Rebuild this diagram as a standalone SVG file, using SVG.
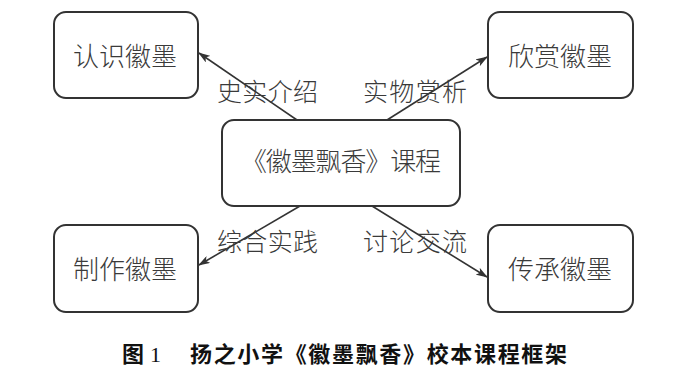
<svg xmlns="http://www.w3.org/2000/svg" width="700" height="388" viewBox="0 0 700 388">
<style>
.box{fill:#fff;stroke:#333;stroke-width:2}
.t{font-family:"Noto Sans CJK SC","Noto Sans CJK JP",sans-serif;font-size:26px;fill:#3a3a3a;text-anchor:middle;font-weight:300}
.lbl{font-family:"Noto Sans CJK SC","Noto Sans CJK JP",sans-serif;font-size:25px;fill:#3a3a3a;font-weight:300}
.cap{font-family:"Noto Sans CJK SC","Noto Sans CJK JP",sans-serif;font-size:22px;font-weight:bold;fill:#111}
.ln{stroke:#333;stroke-width:1.6;fill:none;marker-end:url(#ah)}
</style>
<defs>
<marker id="ah" viewBox="0 0 12 8" refX="11" refY="4" markerWidth="12" markerHeight="8" markerUnits="userSpaceOnUse" orient="auto">
<path d="M0,0 L12,4 L0,8 L3,4 Z" fill="#333"/>
</marker>
</defs>
<rect width="700" height="388" fill="#fff"/>
<g id="connectors">
<line class="ln" x1="297" y1="120" x2="199" y2="53"/>
<line class="ln" x1="387" y1="120" x2="487" y2="57"/>
<line class="ln" x1="300" y1="206" x2="199" y2="265"/>
<line class="ln" x1="372" y1="206" x2="487" y2="277"/>
<text class="lbl" x="217" y="101" textLength="101">史实介绍</text>
<text class="lbl" x="363" y="101" textLength="104">实物赏析</text>
<text class="lbl" x="217" y="251" textLength="101">综合实践</text>
<text class="lbl" x="363" y="251" textLength="104">讨论交流</text>
</g>
<g id="center">
<rect class="box" x="222" y="120" width="238" height="86" rx="12"/>
<text class="t" x="341" y="171" textLength="200">《徽墨飘香》课程</text>
</g>
<g id="n1">
<rect class="box" x="54" y="12" width="144" height="86" rx="12"/>
<text class="t" x="125" y="66" textLength="104">认识徽墨</text>
</g>
<g id="n2">
<rect class="box" x="488" y="12" width="145" height="86" rx="12"/>
<text class="t" x="560" y="66" textLength="104">欣赏徽墨</text>
</g>
<g id="n3">
<rect class="box" x="54" y="225" width="144" height="87" rx="12"/>
<text class="t" x="125" y="279" textLength="104">制作徽墨</text>
</g>
<g id="n4">
<rect class="box" x="488" y="225" width="145" height="87" rx="12"/>
<text class="t" x="560" y="279" textLength="104">传承徽墨</text>
</g>
<g id="caption">
<text class="cap" x="122" y="362">图</text>
<text x="150" y="362" style="font-family:'Liberation Serif',serif;font-size:22px;fill:#111">1</text>
<text class="cap" x="190" y="362" textLength="377">扬之小学《徽墨飘香》校本课程框架</text>
</g>
</svg>
